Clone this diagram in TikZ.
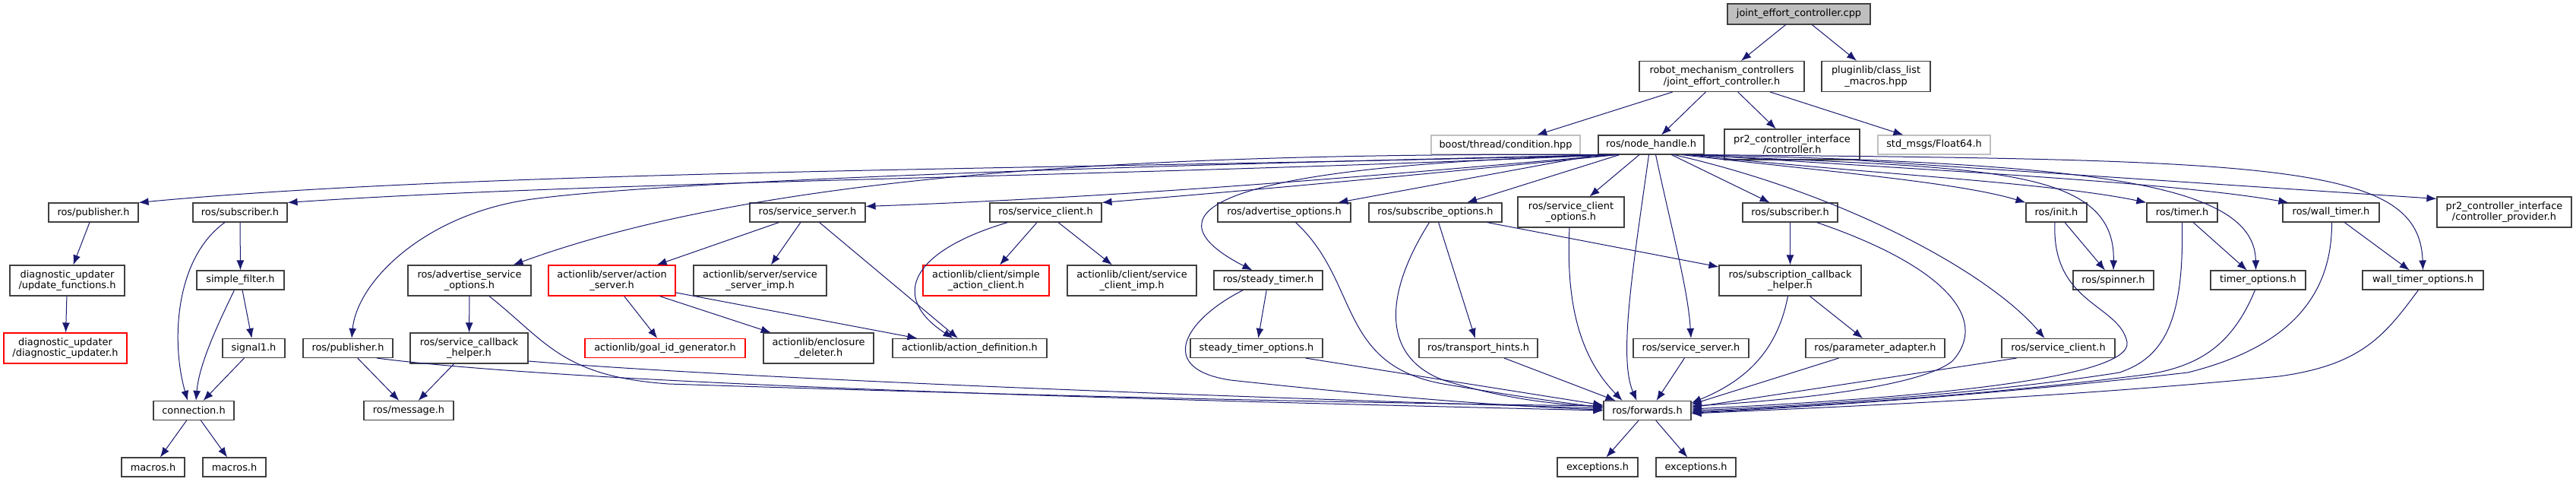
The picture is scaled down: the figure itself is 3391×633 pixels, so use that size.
\documentclass[tikz,border=0pt]{standalone}
\usepackage{fontspec}
\setmainfont{DejaVu Sans}
\usetikzlibrary{arrows.meta}
\definecolor{Edge}{HTML}{191970}
\definecolor{Frame}{HTML}{404040}
\definecolor{Faint}{HTML}{BFBFBF}
\definecolor{Cut}{HTML}{FF0000}
\tikzset{file/.style={draw=Frame,line width=1.1pt,fill=white,inner sep=0pt,
  align=center,font=\fontsize{12.9}{14.5}\selectfont,minimum height=25pt},
  tall/.style={minimum height=40pt},
  extfile/.style={file,draw=Faint},
  cutfile/.style={file,draw=Cut},
  mainfile/.style={file,fill=Faint},
  dep/.style={-{Latex[length=13pt,width=10pt]},line width=1pt,draw=Edge}}

\begin{document}
\begin{tikzpicture}[x=1pt,y=-1pt]
\fill[white] (0,0) rectangle (3391,633);
\useasboundingbox (0,0) rectangle (3391,633);
% top ranks
\node[mainfile,minimum width=188pt,minimum height=27pt] (cpp) at (2368,18.5) {joint\_effort\_controller.cpp};
\node[file,tall,minimum width=217pt] (rmc) at (2266.5,100.5) {robot\_mechanism\_controllers\\/joint\_effort\_controller.h};
\node[file,tall,minimum width=143pt] (plug) at (2469.5,100.5) {pluginlib/class\_list\\\_macros.hpp};
\node[extfile,minimum width=196pt] (boost) at (1982,190.5) {boost/thread/condition.hpp};
\node[file,minimum width=139pt] (nh) at (2173.5,190.5) {ros/node\_handle.h};
\node[file,tall,minimum width=178pt] (ctrl) at (2359,190) {pr2\_controller\_interface\\/controller.h};
\node[extfile,minimum width=148pt] (f64) at (2546,190.5) {std\_msgs/Float64.h};
% rank 3
\node[file,minimum width=118pt] (pubA) at (123,279.5) {ros/publisher.h};
\node[file,minimum width=124pt] (subA) at (316,279.5) {ros/subscriber.h};
\node[file,minimum width=152pt] (ssA) at (1063,279.5) {ros/service\_server.h};
\node[file,minimum width=147pt] (scA) at (1376.5,279.5) {ros/service\_client.h};
\node[file,minimum width=175pt] (advo) at (1690.5,279.5) {ros/advertise\_options.h};
\node[file,minimum width=175pt] (subo) at (1889.5,279.5) {ros/subscribe\_options.h};
\node[file,tall,minimum width=140pt] (sco) at (2068,279) {ros/service\_client\\\_options.h};
\node[file,minimum width=125pt] (subB) at (2356.5,279.5) {ros/subscriber.h};
\node[file,minimum width=80pt] (init) at (2707,279.5) {ros/init.h};
\node[file,minimum width=93pt] (tim) at (2872.5,279.5) {ros/timer.h};
\node[file,minimum width=127pt] (wtim) at (3068.5,279.5) {ros/wall\_timer.h};
\node[file,tall,minimum width=177pt] (prov) at (3296.5,279) {pr2\_controller\_interface\\/controller\_provider.h};
% rank 4
\node[file,tall,minimum width=151pt] (updf) at (88.5,369) {diagnostic\_updater\\/update\_functions.h};
\node[file,minimum width=115pt] (sflt) at (316.5,368.5) {simple\_filter.h};
\node[file,tall,minimum width=162pt] (aso) at (618,369) {ros/advertise\_service\\\_options.h};
\node[cutfile,tall,minimum width=167pt] (asrv) at (805.5,369) {actionlib/server/action\\\_server.h};
\node[file,tall,minimum width=175pt] (ssimp) at (1000.5,369) {actionlib/server/service\\\_server\_imp.h};
\node[cutfile,tall,minimum width=166pt] (sac) at (1298,369) {actionlib/client/simple\\\_action\_client.h};
\node[file,tall,minimum width=170pt] (scimp) at (1490,369) {actionlib/client/service\\\_client\_imp.h};
\node[file,minimum width=143pt] (stim) at (1669.5,368.5) {ros/steady\_timer.h};
\node[file,tall,minimum width=187pt] (sch) at (2356.5,369) {ros/subscription\_callback\\\_helper.h};
\node[file,minimum width=106pt] (spin) at (2782,368.5) {ros/spinner.h};
\node[file,minimum width=125pt] (topt) at (2972.5,368.5) {timer\_options.h};
\node[file,minimum width=159pt] (wtopt) at (3189.5,368.5) {wall\_timer\_options.h};
% rank 5
\node[cutfile,tall,minimum width=162pt] (diag) at (86,458) {diagnostic\_updater\\/diagnostic\_updater.h};
\node[file,minimum width=82pt] (sig) at (334,458) {signal1.h};
\node[file,minimum width=118pt] (pubB) at (458,458) {ros/publisher.h};
\node[file,tall,minimum width=155pt] (scbh) at (617.5,458) {ros/service\_callback\\\_helper.h};
\node[cutfile,minimum width=211pt] (gid) at (875.5,458) {actionlib/goal\_id\_generator.h};
\node[file,tall,minimum width=145pt] (encl) at (1077.5,458) {actionlib/enclosure\\\_deleter.h};
\node[file,minimum width=203pt] (adef) at (1276.5,458) {actionlib/action\_definition.h};
\node[file,minimum width=174pt] (stopt) at (1654,458) {steady\_timer\_options.h};
\node[file,minimum width=156pt] (thints) at (1946,458) {ros/transport\_hints.h};
\node[file,minimum width=152pt] (ssB) at (2226,458) {ros/service\_server.h};
\node[file,minimum width=183pt] (padp) at (2468.5,458) {ros/parameter\_adapter.h};
\node[file,minimum width=149pt] (scB) at (2709.5,458) {ros/service\_client.h};
% rank 6 and 7
\node[file,minimum width=106pt] (conn) at (255,540) {connection.h};
\node[file,minimum width=118pt] (msg) at (538,540) {ros/message.h};
\node[file,minimum width=115pt] (fwd) at (2168.5,540) {ros/forwards.h};
\node[file,minimum width=83pt] (mac1) at (201.5,614.5) {macros.h};
\node[file,minimum width=83pt] (mac2) at (308.5,614.5) {macros.h};
\node[file,minimum width=106pt] (exc1) at (2103,614.5) {exceptions.h};
\node[file,minimum width=105pt] (exc2) at (2232.5,614.5) {exceptions.h};

% includes of the top files
\draw[dep] (cpp) -- (rmc);
\draw[dep] (cpp) -- (plug);
\draw[dep] (rmc) -- (boost);
\draw[dep] (rmc) -- (nh);
\draw[dep] (rmc) -- (ctrl);
\draw[dep] (rmc) -- (f64);
\draw[dep] ([xshift=-8pt]ctrl.south east) -- ([yshift=-3pt]prov.north west);
% node_handle, to the left
\draw[dep] ([xshift=15pt]nh.south west) .. controls (1500,222) and (650,222) .. (pubA.north east);
\draw[dep] ([xshift=18pt]nh.south west) .. controls (1500,232) and (800,238) .. (subA.north east);
\draw[dep] ([xshift=22pt]nh.south west) .. controls (1800,232) and (1500,258) .. ([yshift=8pt]ssA.east);
\draw[dep] ([xshift=25pt]nh.south west) .. controls (1850,232) and (1650,250) .. (scA.north east);
\draw[dep] ([xshift=20pt]nh.south west) .. controls (1500,200) and (1000,230) .. ([xshift=-24pt]aso.north east);
\draw[dep] ([xshift=17pt]nh.south west) .. controls (1600,215) and (900,235) .. (700,262)
  .. controls (560,281) and (470,370) .. ([xshift=5pt]pubB.north);
\draw[dep] ([xshift=28pt]nh.south west) .. controls (1500,220) and (1540,300) .. ([xshift=-21pt]stim.north);
\draw[dep] (nh) -- (advo);
\draw[dep] (nh) -- (subo);
\draw[dep] (nh) -- (sco);
\draw[dep] ([xshift=-3pt]nh.south) .. controls (2150,350) and (2130,470) .. ([xshift=-14pt]fwd.north);
\draw[dep] ([xshift=6pt]nh.south) .. controls (2200,300) and (2222,380) .. (ssB.north);
% node_handle, to the right
\draw[dep] (nh) -- (subB);
\draw[dep] ([xshift=-40pt]nh.south east) .. controls (2430,255) and (2620,360) .. ([xshift=-18pt]scB.north);
\draw[dep] ([xshift=-30pt]nh.south east) .. controls (2400,225) and (2580,240) .. (init.north west);
\draw[dep] ([xshift=-25pt]nh.south east) .. controls (2600,222) and (2785,215) .. (spin.north);
\draw[dep] ([xshift=-20pt]nh.south east) .. controls (2450,228) and (2700,240) .. (tim.north west);
\draw[dep] ([xshift=-15pt]nh.south east) .. controls (2750,215) and (2968,240) .. ([xshift=-3pt]topt.north);
\draw[dep] ([xshift=-10pt]nh.south east) .. controls (2500,222) and (2850,238) .. ([xshift=8pt]wtim.north west);
\draw[dep] ([xshift=-5pt]nh.south east) .. controls (3000,210) and (3185,215) .. (wtopt.north);
% diagnostic updater and message filters
\draw[dep] (pubA) -- (updf);
\draw[dep] (updf) -- (diag);
\draw[dep] (subA) -- (sflt);
\draw[dep] ([xshift=-20pt]subA.south) .. controls (230,340) and (225,450) .. ([xshift=-8pt]conn.north);
\draw[dep] ([xshift=-8pt]sflt.south) .. controls (285,430) and (262,480) .. ([xshift=3pt]conn.north);
\draw[dep] (sflt) -- (sig);
\draw[dep] (sig) -- (conn);
\draw[dep] (conn) -- (mac1);
\draw[dep] (conn) -- (mac2);
% services and publisher
\draw[dep] (aso) -- (scbh);
\draw[dep] ([xshift=26pt]aso.south) .. controls (720,450) and (740,495) .. (880,505)
  .. controls (1400,522) and (1800,530) .. ([yshift=6pt]fwd.west);
\draw[dep] (scbh) -- (msg);
\draw[dep] ([yshift=-17pt]scbh.east) .. controls (1000,500) and (1700,525) .. ([yshift=3pt]fwd.west);
\draw[dep] (pubB) -- (msg);
\draw[dep] ([xshift=38pt]pubB.south) .. controls (800,510) and (1700,530) .. (fwd.west);
% actionlib
\draw[dep] (ssA) -- (asrv);
\draw[dep] (ssA) -- (ssimp);
\draw[dep] (ssA) -- (adef);
\draw[dep] (asrv) -- (gid);
\draw[dep] (asrv) -- (encl);
\draw[dep] (asrv) -- (adef);
\draw[dep] (scA) -- (sac);
\draw[dep] (scA) -- (scimp);
\draw[dep] ([xshift=-50pt]scA.south) .. controls (1200,330) and (1170,390) .. ([xshift=-22pt]adef.north);
% options and timers into forwards
\draw[dep] ([xshift=15pt]advo.south) .. controls (1790,370) and (1760,480) .. (1900,505)
  .. controls (2000,522) and (2060,530) .. ([yshift=4pt]fwd.west);
\draw[dep] ([xshift=-8pt]subo.south) .. controls (1820,390) and (1820,470) .. (1900,500)
  .. controls (1980,525) and (2050,532) .. ([yshift=5pt]fwd.west);
\draw[dep] (subo) -- (thints);
\draw[dep] (subo) -- (sch);
\draw[dep] ([xshift=-2pt]sco.south) .. controls (2060,420) and (2090,480) .. ([xshift=-33pt]fwd.north);
\draw[dep] (thints) -- ([xshift=-42pt]fwd.north);
\draw[dep] (ssB) -- ([xshift=12pt]fwd.north);
\draw[dep] (stim) -- (stopt);
\draw[dep] ([xshift=-33pt]stim.south) .. controls (1560,420) and (1520,485) .. (1620,500)
  .. controls (1850,525) and (2000,535) .. ([yshift=1pt]fwd.west);
\draw[dep] ([xshift=-23pt]stopt.south east) -- ([yshift=7pt]fwd.west);
\draw[dep] (subB) -- (sch);
\draw[dep] ([xshift=35pt]subB.south) .. controls (2560,350) and (2620,420) .. (2570,475)
  .. controls (2520,515) and (2300,530) .. ([yshift=6pt]fwd.east);
\draw[dep] (sch) -- (padp);
\draw[dep] ([xshift=-3pt]sch.south) .. controls (2340,460) and (2300,500) .. ([yshift=10pt]fwd.east);
\draw[dep] ([xshift=-48pt]padp.south) -- ([yshift=8pt]fwd.east);
\draw[dep] ([xshift=-55pt]scB.south) -- ([yshift=4pt]fwd.east);
\draw[dep] (init) -- (spin);
\draw[dep] ([xshift=-2pt]init.south) .. controls (2700,400) and (2790,400) .. (2800,450)
  .. controls (2808,500) and (2500,525) .. ([yshift=2pt]fwd.east);
\draw[dep] (tim) -- (topt);
\draw[dep] (tim.south) .. controls (2875,420) and (2850,470) .. (2790,490)
  .. controls (2600,520) and (2350,535) .. (fwd.east);
\draw[dep] (wtim) -- (wtopt);
\draw[dep] ([xshift=-4pt]topt.south) .. controls (2940,450) and (2900,480) .. (2830,492)
  .. controls (2600,522) and (2350,536) .. ([yshift=-2pt]fwd.east);
\draw[dep] ([xshift=1pt]wtim.south) .. controls (3070,400) and (3000,460) .. (2880,490)
  .. controls (2600,522) and (2350,537) .. ([yshift=-3pt]fwd.east);
\draw[dep] ([xshift=-6pt]wtopt.south) .. controls (3140,440) and (3110,480) .. (3000,495)
  .. controls (2700,525) and (2350,538) .. ([yshift=-4pt]fwd.east);
\draw[dep] (fwd) -- (exc1);
\draw[dep] (fwd) -- (exc2);
\end{tikzpicture}
\end{document}
